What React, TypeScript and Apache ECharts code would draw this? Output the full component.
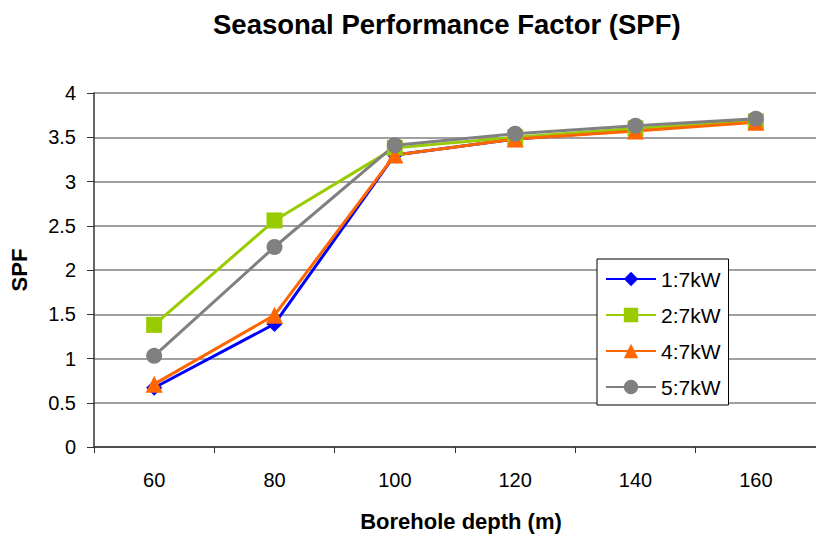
import React, { useEffect, useRef } from "react";
import * as echarts from "echarts";

const categories = ["60", "80", "100", "120", "140", "160"];
const yTicks = { min: 0, max: 4, interval: 0.5 };
const seriesNames = ["1:7kW", "2:7kW", "4:7kW", "5:7kW"];
const s1 = [0.67, 1.39, 3.3, 3.48, 3.58, 3.7];
const s2 = [1.38, 2.56, 3.38, 3.5, 3.6, 3.68];
const s4 = [0.71, 1.49, 3.3, 3.48, 3.57, 3.67];
const s5 = [1.03, 2.26, 3.41, 3.54, 3.63, 3.71];

const FONT = 'Arial, "Liberation Sans", sans-serif';

export default function App() {
  const ref = useRef<HTMLDivElement>(null);
  useEffect(() => {
    document.body.style.margin = "0";
    const chart = echarts.init(ref.current!, null, { renderer: "svg" });
    const mk = (name: string, data: number[], color: string, symbol: string, size: number) => ({
      name,
      type: "line",
      data,
      symbol,
      symbolSize: size,
      lineStyle: { color, width: 3 },
      itemStyle: { color },
      z: 2,
    });
    chart.setOption({
      animation: false,
      backgroundColor: "#ffffff",
      textStyle: { fontFamily: FONT },
      title: {
        text: "Seasonal Performance Factor (SPF)",
        left: 208,
        top: 5,
        textStyle: { fontFamily: FONT, fontWeight: "bold", fontSize: 27.5, color: "#000" },
      },
      grid: { left: 91, top: 93, width: 732, height: 360, containLabel: false },
      legend: {
        orient: "vertical",
        left: 597,
        top: 259,
        data: seriesNames,
        itemWidth: 50,
        itemHeight: 18,
        itemGap: 14,
        padding: [9, 8, 7, 8],
        backgroundColor: "#ffffff",
        borderColor: "#000000",
        borderWidth: 1,
        borderRadius: 0,
        textStyle: { fontFamily: FONT, fontSize: 21, color: "#000", lineHeight: 22 },
      },
      xAxis: {
        type: "category",
        data: categories,
        boundaryGap: true,
        name: "Borehole depth (m)",
        nameLocation: "middle",
        nameGap: 63,
        nameTextStyle: { fontFamily: FONT, fontWeight: "bold", fontSize: 22, color: "#000", padding: [0, 0, 0, 12] },
        axisLine: { lineStyle: { color: "#333", width: 1.5 } },
        axisTick: { show: true, length: 6, lineStyle: { color: "#333" } },
        axisLabel: { fontFamily: FONT, fontSize: 20, color: "#000", margin: 23 },
        splitLine: { show: false },
      },
      yAxis: {
        type: "value",
        min: yTicks.min,
        max: yTicks.max,
        interval: yTicks.interval,
        name: "SPF",
        nameLocation: "middle",
        nameGap: 64,
        nameTextStyle: { fontFamily: FONT, fontWeight: "bold", fontSize: 22, color: "#000" },
        axisLine: { show: true, lineStyle: { color: "#333", width: 1.5 } },
        axisTick: { show: true, length: 7, lineStyle: { color: "#333" } },
        axisLabel: { fontFamily: FONT, fontSize: 20, color: "#000", margin: 18 },
        splitLine: { show: true, lineStyle: { color: "#808080", width: 1.5 } },
      },
      series: [
        mk(seriesNames[0], s1, "#0000FF", "diamond", 16),
        mk(seriesNames[1], s2, "#99CC00", "rect", 16),
        mk(seriesNames[2], s4, "#FF6600", "triangle", 17),
        mk(seriesNames[3], s5, "#808080", "circle", 16),
      ],
    });
    return () => chart.dispose();
  }, []);
  return <div ref={ref} style={{ width: 816, height: 537, position: "fixed", left: 0, top: 0 }} />;
}
